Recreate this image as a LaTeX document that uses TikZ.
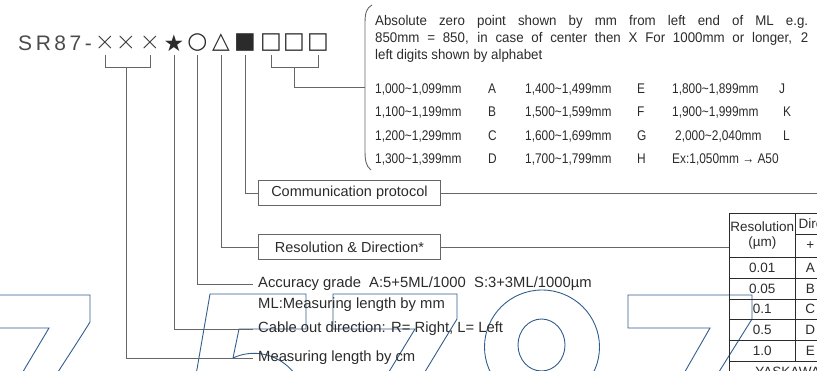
\documentclass[tikz,border=0pt]{standalone}
\usepackage{fontspec}
\setmainfont{Liberation Sans}
\newfontfamily\symfont{DejaVu Sans}
\newfontfamily\narrowfont[FakeStretch=0.85]{Liberation Sans}
\newfontfamily\parafont[FakeStretch=0.95]{Liberation Sans}
\usetikzlibrary{positioning}

\definecolor{ink}{HTML}{2B2B2B}
\definecolor{leadgray}{HTML}{666666}
\definecolor{wmblue}{HTML}{2F5E8E}

\newcommand{\mmrange}[2]{#1\textasciitilde#2mm}

\tikzset{
  leader/.style={draw=leadgray, line width=0.9pt},
  lbl/.style={anchor=west, inner xsep=5pt, inner ysep=1pt, text=ink,
    font=\fontsize{14.8}{17}\selectfont},
  boxlbl/.style={draw=leadgray, line width=0.9pt, anchor=west, inner sep=0pt,
    minimum width=182pt, minimum height=25pt, text=ink,
    font=\fontsize{14.5}{17}\selectfont},
  sym/.style={inner sep=0pt, text=ink, font=\symfont\fontsize{23}{23}\selectfont},
  cross/.style={inner sep=0pt, text=ink, font=\fontfamily{lmr}\fontsize{28}{28}\selectfont},
  rng/.style={anchor=base west, inner sep=0pt, text=ink,
    font=\narrowfont\fontsize{14}{17}\selectfont},
  cell/.style={draw=ink, line width=0.6pt, anchor=north west, inner sep=0pt,
    text=ink, font=\fontsize{13.5}{14.5}\selectfont},
  wm/.style={draw=wmblue, line width=0.9pt},
}

\begin{document}
\begin{tikzpicture}[x=1pt, y=-1pt]
  \useasboundingbox (0,0) rectangle (817,370);
  \clip (0,0) rectangle (817,370);

  % outline figures behind
  \draw[wm] (-5,295) -- (90,295) -- (90,322) .. controls (80,338) .. (56,375);
  \draw[wm] (-5,328) -- (49,328) -- (21,375);
  \draw[wm] (196,375) -- (210,294) -- (306,294) -- (306,329) -- (239,329) -- (233,358)
    .. controls (252,349) and (278,352) .. (296,375);
  \draw[wm] (387,375) -- (415,329) -- (333,329) -- (333,294) -- (457,294) -- (457,319) -- (423,375);
  \draw[wm] (542,347) ellipse [x radius=57.5, y radius=57];
  \draw[wm] (541.5,345) ellipse [x radius=23.5, y radius=26];
  \draw[wm] (683,375) -- (710,328) -- (628,328) -- (628,295) -- (752,295) -- (752,319) -- (717,375);

  % part number
  \node[anchor=west, inner sep=0pt, text=ink!85,
    font=\fontsize{21}{21}\selectfont\addfontfeature{LetterSpace=17}] (code) at (18,43) {SR87-};
  \node[cross] (x1) at (105,43) {×};
  \node[cross] (x2) at (126,43) {×};
  \node[cross] (x3) at (150,43) {×};
  \node[sym] (star) at (174,43) {★};
  \node[sym] (circ) at (197.5,43) {○};
  \node[sym] (tri) at (221,43) {△};
  \node[sym] (blk) at (245,43) {■};
  \node[sym] (d1) at (271,43) {□};
  \node[sym] (d2) at (294,43) {□};
  \node[sym] (d3) at (318,43) {□};

  \coordinate (stemtop) at (0,55);
  \coordinate (brk) at (0,67);
  \coordinate (bracetip) at (365,87);
  \coordinate (commend) at (820,193);

  % absolute zero point
  \draw[leader] (372,5) .. controls (366,8) and (365,14) .. (365,24) -- (365,150)
    .. controls (365,161) and (366,166) .. (371,170);
  \node[anchor=north west, inner sep=0pt, text width=433pt, align=justify, text=ink,
    font=\parafont\fontsize{14}{17}\selectfont] (abszero) at (375,15)
    {Absolute zero point shown by mm from left end of ML e.g.\linebreak
     850mm = 850, in case of center then X For 1000mm or longer, 2\linebreak
     left digits shown by alphabet};

  \node[rng] (ra1) at (375,93) {\mmrange{1,000}{1,099}};
  \node[rng] (la1) at (488,93) {A};
  \node[rng] (rb1) at (525,93) {\mmrange{1,400}{1,499}};
  \node[rng] (lb1) at (637,93) {E};
  \node[rng] (rc1) at (672,93) {\mmrange{1,800}{1,899}};
  \node[rng] (lc1) at (779,93) {J};

  \node[rng] (ra2) at (375,116.5) {\mmrange{1,100}{1,199}};
  \node[rng] (la2) at (488,116.5) {B};
  \node[rng] (rb2) at (525,116.5) {\mmrange{1,500}{1,599}};
  \node[rng] (lb2) at (637,116.5) {F};
  \node[rng] (rc2) at (672,116.5) {\mmrange{1,900}{1,999}};
  \node[rng] (lc2) at (783,116.5) {K};

  \node[rng] (ra3) at (375,140) {\mmrange{1,200}{1,299}};
  \node[rng] (la3) at (488,140) {C};
  \node[rng] (rb3) at (525,140) {\mmrange{1,600}{1,699}};
  \node[rng] (lb3) at (637,140) {G};
  \node[rng] (rc3) at (675,140) {\mmrange{2,000}{2,040}};
  \node[rng] (lc3) at (783,140) {L};

  \node[rng] (ra4) at (375,163.5) {\mmrange{1,300}{1,399}};
  \node[rng] (la4) at (488,163.5) {D};
  \node[rng] (rb4) at (525,163.5) {\mmrange{1,700}{1,799}};
  \node[rng] (lb4) at (637,163.5) {H};
  \node[rng] (rc4) at (672,163.5) {Ex:1,050mm → A50};

  % boxes and labels
  \node[boxlbl] (comm) at (258,193) {Communication protocol};
  \node[boxlbl] (resdir) at (258,247) {Resolution \& Direction*};
  \node[lbl] (acc) at (253,284) {Accuracy grade\ \ A:5+5ML/1000\ \ S:3+3ML/1000µm};
  \node[lbl] (mlmm) at (253,305) {ML:Measuring length by mm};
  \node[lbl] (cable) at (253,329) {Cable out direction: R= Right, L= Left};
  \node[lbl] (mlen) at (253,358) {Measuring length by cm};

  % resolution table
  \node[cell, minimum width=66pt, minimum height=44pt, align=center] (hdr) at (729,213) {Resolution\\(µm)};
  \node[cell, minimum width=60pt, minimum height=21pt] (dirn) at (795,213) {Direction};
  \node[cell, minimum width=30pt, minimum height=23pt] (plus) at (795,234) {+};
  \foreach \v/\c [count=\i from 0] in {0.01/A, 0.05/B, 0.1/C, 0.5/D, 1.0/E} {
    \node[cell, minimum width=66pt, minimum height=20.8pt] (res\i) at (729,257+20.8*\i) {\v};
    \node[cell, minimum width=30pt, minimum height=20.8pt] (dir\i) at (795,257+20.8*\i) {\c};
  }
  \node[cell, minimum height=21pt, text width=124pt, inner xsep=26pt, align=left] (maker) at (729,361) {YASKAWA};

  % leaders
  \draw[leader] (x1 |- stemtop) -- (x1 |- brk) -- (x3 |- brk) -- (x3 |- stemtop);
  \draw[leader] (x2 |- brk) |- (mlen.west);
  \draw[leader] (star |- stemtop) |- (cable.west);
  \draw[leader] (circ |- stemtop) |- (acc.west);
  \draw[leader] (tri |- stemtop) |- (resdir.west);
  \draw[leader] (blk |- stemtop) |- (comm.west);
  \draw[leader] (d1 |- stemtop) -- (d1 |- brk) -- (d3 |- brk) -- (d3 |- stemtop);
  \draw[leader] (d2 |- brk) |- (bracetip);
  \draw[leader] (comm.east) -- (commend);
  \draw[leader] (resdir.east) -- (resdir.east -| hdr.west);
\end{tikzpicture}
\end{document}
